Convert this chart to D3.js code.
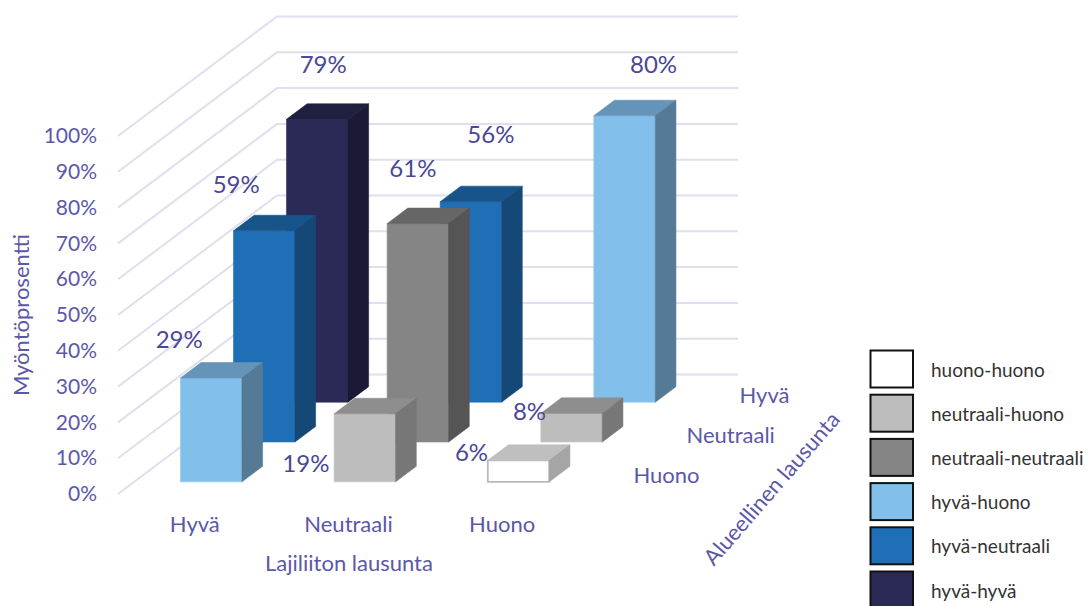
<!DOCTYPE html>
<html>
<head>
<meta charset="utf-8">
<script src="https://cdn.jsdelivr.net/npm/d3@7"></script>
<style>
  html, body { margin: 0; padding: 0; background: #fff; overflow: hidden; }
  svg { display: block; font-family: Lato, sans-serif; }
</style>
</head>
<body>
<div id="chart"></div>
<script>
// categories
const lajiliitto = ['Hyvä', 'Neutraali', 'Huono']
const alueellinen = ['Huono', 'Neutraali', 'Hyvä'] // front to back
const legendLabels = ['huono-huono', 'neutraali-huono', 'neutraali-neutraali', 'hyvä-huono', 'hyvä-neutraali', 'hyvä-hyvä']
const yTicks = [0, 10, 20, 30, 40, 50, 60, 70, 80, 90, 100]

// approval percent per regional statement, in lajiliitto order
const valuesHuono = [29, 19, 6]
const valuesNeutraali = [59, 61, 8]
const valuesHyva = [79, 56, 80]

// legend entry of each cell
const seriesHuono = ['hyvä-huono', 'neutraali-huono', 'huono-huono']
const seriesNeutraali = ['hyvä-neutraali', 'neutraali-neutraali', 'neutraali-huono']
const seriesHyva = ['hyvä-hyvä', 'hyvä-neutraali', 'hyvä-huono']

const faceColors = {
  'huono-huono': { front: '#ffffff', top: '#bfbfbf', side: '#a5a5a5', edge: '#b9b9b9', swatch: '#ffffff' },
  'neutraali-huono': { front: '#bdbdbd', top: '#8e8e8e', side: '#777777', edge: '#c4c4c4', swatch: '#bdbdbd' },
  'neutraali-neutraali': { front: '#858585', top: '#666666', side: '#555555', edge: '#8c8c8c', swatch: '#858585' },
  'hyvä-huono': { front: '#82bfeb', top: '#6594b8', side: '#547a96', edge: '#92c8ee', swatch: '#82bfeb' },
  'hyvä-neutraali': { front: '#1f6fb7', top: '#175489', side: '#154876', edge: '#2a75ba', swatch: '#1f6fb7' },
  'hyvä-hyvä': { front: '#2b2955', top: '#211f40', side: '#1b1a36', edge: '#33315c', swatch: '#2b2955' }
}

const cells = [
  { row: 'Hyvä', values: valuesHyva, series: seriesHyva },
  { row: 'Neutraali', values: valuesNeutraali, series: seriesNeutraali },
  { row: 'Huono', values: valuesHuono, series: seriesHuono }
].flatMap(r => lajiliitto.map((cat, i) => ({ row: r.row, cat, value: r.values[i], series: r.series[i] })))

// sizes
const width = 1090
const height = 606
const origin = { x: 118, y: 494 } // front left corner of the floor
const plotWidth = 461
const plotHeight = 358
const depthVec = { x: 159, y: -119.5 } // floor front to back on screen

const svg = d3.select('#chart').append('svg')
  .attr('width', width)
  .attr('height', height)

// scales
const x = d3.scaleBand().domain(lajiliitto).range([0.2, plotWidth + 0.2]).paddingInner(0.6).paddingOuter(0.3)
const z = d3.scaleBand().domain(alueellinen).range([0, 1]).paddingInner(0.61).paddingOuter(0.305)
const y = d3.scaleLinear().domain([0, 100]).range([0, -plotHeight])

// oblique projection of (px along x, percent, depth 0..1)
const project = (px, v, d) => [origin.x + px + depthVec.x * d, origin.y + y(v) + depthVec.y * d]
const poly = d3.line()

// grid lines on the side and back walls
svg.append('g')
  .selectAll('path')
  .data(yTicks)
  .enter()
  .append('path')
  .attr('d', t => poly([project(0, t, 0), project(0, t, 1), project(plotWidth, t, 1)]))
  .attr('fill', 'none')
  .attr('stroke', '#e0deef')
  .attr('stroke-width', 2)

// bars, back row first
const bars = svg.append('g')
  .selectAll('g')
  .data(cells)
  .enter()
  .append('g')

const faces = [
  { name: 'front', pts: (l, r, v, a, b) => [project(l, 0, a), project(r, 0, a), project(r, v, a), project(l, v, a)] },
  { name: 'top', pts: (l, r, v, a, b) => [project(l, v, a), project(r, v, a), project(r, v, b), project(l, v, b)] },
  { name: 'side', pts: (l, r, v, a, b) => [project(r, 0, a), project(r, 0, b), project(r, v, b), project(r, v, a)] }
]

faces.forEach(face => {
  bars.append('path')
    .attr('d', c => {
      const l = x(c.cat)
      const a = z(c.row)
      return poly(face.pts(l, l + x.bandwidth(), c.value, a, a + z.bandwidth())) + 'Z'
    })
    .attr('fill', c => faceColors[c.series][face.name])
    .attr('stroke', c => face.name === 'front' ? faceColors[c.series].edge : faceColors[c.series][face.name])
    .attr('stroke-width', c => c.series === 'huono-huono' && face.name === 'front' ? 1.8 : 0.6)
    .attr('stroke-linejoin', 'round')
})

// value labels sit at hand picked spots around the bars, as in the original
const labelOffset = {
  'Hyvä|Hyvä': [6, -56], 'Hyvä|Neutraali': [20, -68], 'Hyvä|Huono': [29, -52],
  'Neutraali|Hyvä': [-28, -47], 'Neutraali|Neutraali': [-5, -56], 'Neutraali|Huono': [-42, -3],
  'Huono|Hyvä': [-32, -40], 'Huono|Neutraali': [-59, 49], 'Huono|Huono': [-47, -9]
}

svg.append('g')
  .selectAll('text')
  .data(cells)
  .enter()
  .append('text')
  .attr('transform', c => {
    const p = project(x(c.cat) + x.bandwidth() / 2, c.value, z(c.row))
    const o = labelOffset[c.row + '|' + c.cat]
    return `translate(${p[0] + o[0]},${p[1] + o[1]})`
  })
  .attr('text-anchor', 'middle')
  .attr('dominant-baseline', 'central')
  .attr('font-size', 24)
  .attr('fill', '#4b4895')
  .text(c => c.value + '%')

const axisColor = '#5b58a8'

// y axis on the front edge of the side wall
const yAxis = d3.scaleLinear().domain([0, 100]).range([plotHeight, 0])
const gY = svg.append('g')
  .attr('transform', `translate(${origin.x},${origin.y - plotHeight})`)
  .call(d3.axisLeft(yAxis).tickValues(yTicks).tickSize(0).tickPadding(21).tickFormat(d => d + '%'))
gY.select('.domain').remove()
gY.selectAll('text').attr('font-size', 21).attr('font-family', 'Lato, sans-serif').attr('fill', axisColor)

// x axis
const gX = svg.append('g')
  .attr('transform', `translate(${origin.x},519)`)
  .call(d3.axisBottom(d3.scaleBand().domain(lajiliitto).range([0, plotWidth])).tickSize(0).tickPadding(0))
gX.select('.domain').remove()
gX.selectAll('text').attr('font-size', 22).attr('font-family', 'Lato, sans-serif').attr('fill', axisColor).attr('dy', '0.6em')

// depth labels
svg.append('g')
  .selectAll('text')
  .data(alueellinen)
  .enter()
  .append('text')
  .attr('x', d => project(plotWidth, 0, z(d) + z.bandwidth() / 2)[0] + 28)
  .attr('y', d => project(plotWidth, 0, z(d) + z.bandwidth() / 2)[1])
  .attr('dominant-baseline', 'central')
  .attr('font-size', 22)
  .attr('fill', axisColor)
  .text(d => d)

// axis titles
const titles = [
  { text: 'Myöntöprosentti', x: 20, y: 315, rotate: -90 },
  { text: 'Lajiliiton lausunta', x: 349, y: 562, rotate: 0 },
  { text: 'Alueellinen lausunta', x: 771, y: 488, rotate: -49 }
]
svg.append('g')
  .selectAll('text')
  .data(titles)
  .enter()
  .append('text')
  .attr('transform', d => `translate(${d.x},${d.y}) rotate(${d.rotate})`)
  .attr('text-anchor', 'middle')
  .attr('dominant-baseline', 'central')
  .attr('font-size', 22)
  .attr('fill', axisColor)
  .text(d => d.text)

// legend
const legendY = d3.scaleBand().domain(legendLabels).range([349, 349 + 44.2 * 6])
const legend = svg.append('g')
  .selectAll('g')
  .data(legendLabels)
  .enter()
  .append('g')
  .attr('transform', d => `translate(870,${legendY(d)})`)

legend.append('rect')
  .attr('x', 0.5)
  .attr('y', 1.5)
  .attr('width', 42.5)
  .attr('height', 37)
  .attr('fill', d => faceColors[d].swatch)
  .attr('stroke', '#111')
  .attr('stroke-width', 2)

legend.append('text')
  .attr('x', 61)
  .attr('y', 20)
  .attr('dominant-baseline', 'central')
  .attr('font-size', 19)
  .attr('fill', '#333')
  .text(d => d)
</script>
</body>
</html>
